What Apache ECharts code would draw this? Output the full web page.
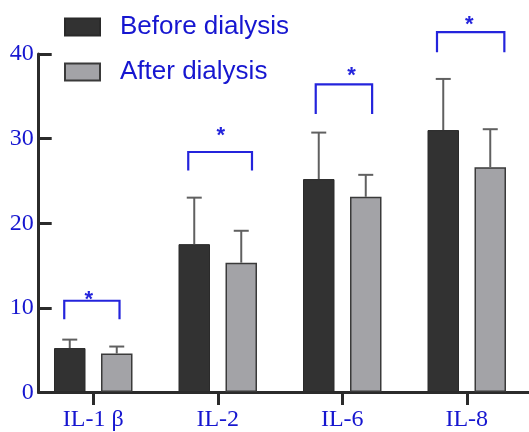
<!DOCTYPE html>
<html>
<head>
<meta charset="utf-8">
<script src="https://cdn.jsdelivr.net/npm/echarts@6/dist/echarts.min.js"></script>
<style>
html,body{margin:0;padding:0;background:#fff;}
#chart{width:529px;height:432px;}
</style>
</head>
<body>
<div id="chart"></div>
<script>
// ---- data ----
const categories = ['IL-1 β', 'IL-2', 'IL-6', 'IL-8'];
const seriesNames = ['Before dialysis', 'After dialysis'];
const beforeMean = [5.2, 17.5, 25.2, 31.0];
const beforeSD   = [1.0, 5.5, 5.5, 6.05];
const afterMean  = [4.55, 15.3, 23.1, 26.6];
const afterSD    = [0.83, 3.78, 2.6, 4.5];
const yTicks = [0, 10, 20, 30, 40];
// significance annotations (value units, band fractions)
const sigBottom = [8.6, 26.2, 32.9, 40.2];
const sigTop    = [10.8, 28.4, 36.4, 42.6];
const sigStar   = [11.5, 30.9, 38.0, 44.0];
const sigLeft   = [-0.233, -0.237, -0.213, -0.239];
const sigRight  = [0.211, 0.275, 0.240, 0.302];
const starShift = [-0.024, 0.006, 0.061, -0.012];

// ---- styles ----
const BLUE = '#1616d0';
const BRACKET = '#2424dc';
const AXIS = '#2b2b2b';
const BAR_W = 31.5;
const BAR_GAP = 15.5;
const GRID_TOP = 54, GRID_BOTTOM = 39.5;

const chart = echarts.init(document.getElementById('chart'), null, {renderer: 'canvas'});

function errRender(offsetSign) {
  return function (params, api) {
    const i = api.value(0), m = api.value(1), sd = api.value(2);
    const p0 = api.coord([i, m]);
    const p1 = api.coord([i, m + sd]);
    const x = p0[0] + offsetSign * (BAR_W + BAR_GAP) / 2;
    const st = {stroke: '#606060', lineWidth: 2};
    return {
      type: 'group',
      children: [
        {type: 'line', shape: {x1: x, y1: p0[1], x2: x, y2: p1[1]}, style: st},
        {type: 'line', shape: {x1: x - 7.5, y1: p1[1], x2: x + 7.5, y2: p1[1]}, style: st}
      ]
    };
  };
}

const errBefore = categories.map((c, i) => [i, beforeMean[i], beforeSD[i]]);
const errAfter = categories.map((c, i) => [i, afterMean[i], afterSD[i]]);
const sigData = categories.map((c, i) => [i, sigBottom[i], sigTop[i], sigStar[i], sigLeft[i], sigRight[i], starShift[i]]);

const option = {
  animation: false,
  backgroundColor: '#ffffff',
  legend: {
    orient: 'vertical',
    left: 64,
    top: 12,
    padding: 0,
    itemWidth: 35,
    itemHeight: 17,
    itemGap: 15,
    icon: 'rect',
    data: seriesNames,
    textStyle: {
      color: BLUE,
      fontFamily: 'Liberation Sans',
      fontSize: 26,
      lineHeight: 30,
      padding: [0, 0, 0, 15]
    }
  },
  grid: [
    {left: 31, right: -7.6, top: GRID_TOP, bottom: GRID_BOTTOM},
    {left: 38.7, right: 0, top: GRID_TOP, bottom: GRID_BOTTOM}
  ],
  xAxis: [
    {
      gridIndex: 0,
      type: 'category',
      data: categories,
      axisLine: {show: false},
      axisTick: {show: true, alignWithLabel: true, length: 13, lineStyle: {color: AXIS, width: 3}},
      axisLabel: {color: BLUE, fontFamily: 'Liberation Serif', fontSize: 24, margin: 16},
      splitLine: {show: false}
    },
    {
      gridIndex: 1,
      type: 'value',
      min: 0, max: 1,
      axisLine: {show: true, onZero: false, lineStyle: {color: AXIS, width: 3}},
      axisTick: {show: false},
      axisLabel: {show: false},
      splitLine: {show: false}
    }
  ],
  yAxis: [
    {gridIndex: 0, type: 'value', min: 0, max: 40, show: false, splitLine: {show: false}},
    {
      gridIndex: 1,
      type: 'value',
      min: yTicks[0], max: yTicks[yTicks.length - 1], interval: 10,
      axisLine: {show: true, lineStyle: {color: AXIS, width: 3}},
      axisTick: {show: true, inside: true, length: 13, lineStyle: {color: AXIS, width: 3}},
      axisLabel: {color: BLUE, fontFamily: 'Liberation Serif', fontSize: 24, margin: 5},
      splitLine: {show: false}
    }
  ],
  series: [
    {
      name: seriesNames[0],
      type: 'bar',
      xAxisIndex: 0, yAxisIndex: 0,
      data: beforeMean,
      barWidth: BAR_W,
      barGap: (BAR_GAP / BAR_W * 100) + '%',
      itemStyle: {color: '#323232', borderColor: '#2a2a2a', borderWidth: 1}
    },
    {
      name: seriesNames[1],
      type: 'bar',
      xAxisIndex: 0, yAxisIndex: 0,
      data: afterMean,
      barWidth: BAR_W,
      barGap: (BAR_GAP / BAR_W * 100) + '%',
      itemStyle: {color: '#a3a3a7', borderColor: '#3a3a3a', borderWidth: 1.5}
    },
    {
      type: 'custom',
      xAxisIndex: 0, yAxisIndex: 0,
      data: errBefore,
      encode: {x: 0, y: 1},
      renderItem: errRender(-1),
      z: 3,
      silent: true
    },
    {
      type: 'custom',
      xAxisIndex: 0, yAxisIndex: 0,
      data: errAfter,
      encode: {x: 0, y: 1},
      renderItem: errRender(1),
      z: 3,
      silent: true
    },
    {
      type: 'custom',
      xAxisIndex: 0, yAxisIndex: 0,
      data: sigData,
      encode: {x: 0, y: 2},
      clip: false,
      silent: true,
      z: 4,
      renderItem: function (params, api) {
        const i = api.value(0);
        const band = api.size([1, 0])[0];
        const c = api.coord([i, api.value(1)]);
        const yb = c[1];
        const yt = api.coord([i, api.value(2)])[1];
        const ys = api.coord([i, api.value(3)])[1];
        const xl = c[0] + api.value(4) * band;
        const xr = c[0] + api.value(5) * band;
        const xs = c[0] + api.value(6) * band + (api.value(4) + api.value(5)) / 2 * band;
        return {
          type: 'group',
          children: [
            {type: 'polyline', shape: {points: [[xl, yb], [xl, yt], [xr, yt], [xr, yb]]},
             style: {stroke: BRACKET, lineWidth: 2.2, fill: null}},
            {type: 'text', x: xs, y: ys + 5,
             style: {text: '*', fill: BRACKET, font: 'bold 22px "Liberation Sans"', align: 'center', verticalAlign: 'middle'}}
          ]
        };
      }
    }
  ]
};
chart.setOption(option);
</script>
</body>
</html>
